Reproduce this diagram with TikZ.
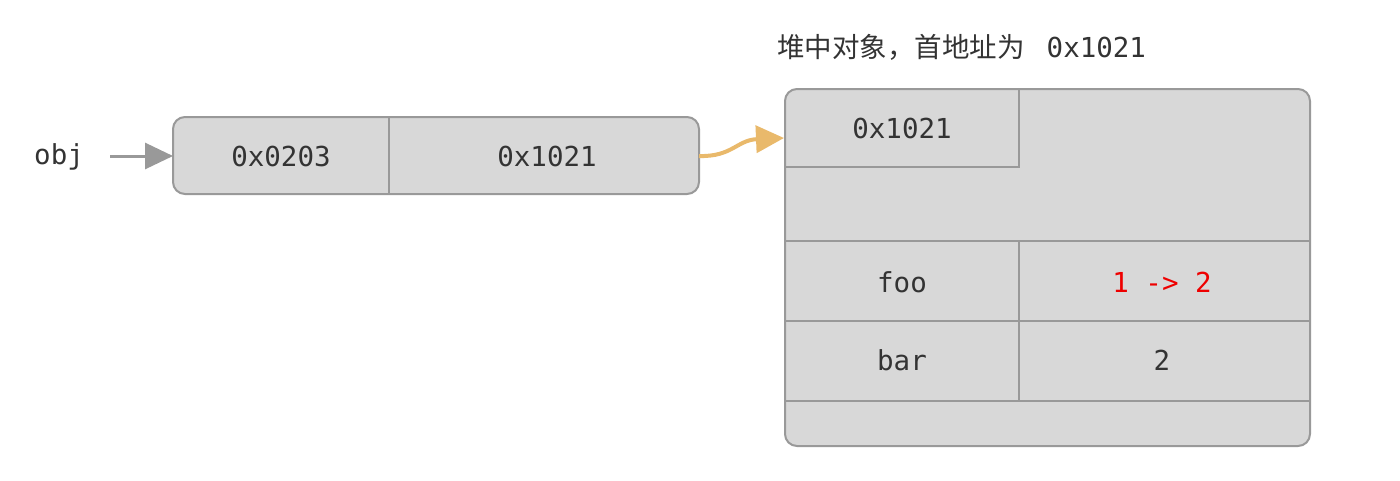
\documentclass[tikz,border=0pt]{standalone}
\usepackage{fontspec}
\setmonofont{DejaVu Sans Mono}
\newfontfamily\cjk{Noto Sans CJK SC}
\usetikzlibrary{arrows.meta}
\definecolor{boxfill}{HTML}{D8D8D8}
\definecolor{boxline}{HTML}{999999}
\definecolor{txt}{HTML}{333333}
\definecolor{curvey}{HTML}{E9B96B}
\definecolor{redtxt}{HTML}{EE0000}
\tikzset{
  box/.style={draw=boxline, fill=boxfill, line width=2pt, rounded corners=12pt},
  sep/.style={draw=boxline, line width=2pt},
  lbl/.style={font=\ttfamily\fontsize{27.5}{32}\selectfont, text=txt, inner sep=0pt},
  ptr/.style={draw=boxline, line width=3pt, -{Triangle[length=28pt,width=26pt]}},
  ref/.style={draw=curvey, line width=4pt, -{Triangle[length=28pt,width=27pt]}},
}
\begin{document}
\begin{tikzpicture}[x=1pt,y=-1pt]
\useasboundingbox (0,0) rectangle (1400,480);
% left object
\draw[box] (173,117) rectangle (699,194);
\coordinate (lbox) at (173,156);
\coordinate (rboxout) at (699,156);
\draw[sep] (389,117) -- (389,194);
\node[lbl] (a1) at (281,156) {0x0203};
\node[lbl] (a2) at (547,156) {0x1021};
\node[lbl, anchor=west] (obj) at (34,157) {obj};
\coordinate (objs) at (110,156);
\draw[ptr] (objs) -- (lbox);
% right object
\draw[box] (785,89) rectangle (1310,446);
\coordinate (heapin) at (784,138);
\draw[sep] (785,167) -- (1019,167) -- (1019,89);
\draw[sep] (785,241) -- (1310,241);
\draw[sep] (785,321) -- (1310,321);
\draw[sep] (785,401) -- (1310,401);
\draw[sep] (1019,241) -- (1019,401);
\node[lbl] (h0) at (902,128) {0x1021};
\node[lbl] (foo) at (902,282) {foo};
\node[lbl, text=redtxt] (fooval) at (1162,282) {1 -> 2};
\node[lbl] (bar) at (902,360) {bar};
\node[lbl] (barval) at (1162,360) {2};
\node[anchor=west, inner sep=0pt, text=txt] (title) at (777,47) {{\cjk\fontsize{27.5}{32}\selectfont 堆中对象，首地址为}\hspace{22pt}{\ttfamily\fontsize{27.5}{32}\selectfont 0x1021}};
% curved reference
\draw[ref] (rboxout) .. controls (732,157) and (737,140) .. (heapin);
\end{tikzpicture}
\end{document}
